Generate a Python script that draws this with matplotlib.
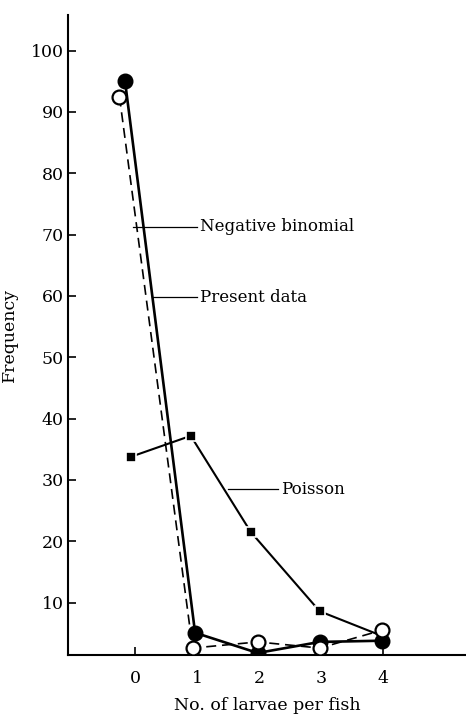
import matplotlib
matplotlib.use('Agg')
import matplotlib.pyplot as plt

plt.rcParams['font.family'] = 'DejaVu Serif'

# Values
x_present = [-0.16, 0.97, 1.98, 2.98, 3.98]
present_data = [95.0, 5.1, 1.8, 3.6, 3.8]

x_negbin = [-0.25, 0.93, 1.98, 2.98, 3.98]
neg_binomial = [92.5, 2.6, 3.6, 2.6, 5.5]

x_poisson = [-0.06, 0.90, 1.87, 2.98, 3.98]
poisson = [33.8, 37.2, 21.5, 8.6, 4.6]

x_ticks = [0, 1, 2, 3, 4]
y_ticks = [10, 20, 30, 40, 50, 60, 70, 80, 90, 100]

fig = plt.figure(figsize=(4.66, 7.15), dpi=100)
ax = fig.add_axes([68/466, 60/715, 1 - 68/466, 640/715])

# Poisson (squares)
ax.plot(x_poisson, poisson, color='black', lw=1.5, marker='s', ms=6.5,
        mfc='black', mec='white', mew=1.2, zorder=3)

# Present data (filled circles, solid)
ax.plot(x_present, present_data, color='black', lw=1.9, marker='o', ms=10.5,
        mfc='black', mec='black', zorder=4)

# Negative binomial (open circles, dashed)
ax.plot(x_negbin, neg_binomial, color='black', lw=1.2, ls=(0, (6, 3.5)),
        marker='o', ms=10, mfc='white', mec='black', mew=1.6, zorder=5)

# Curve labels with leader lines
labels = [('Negative binomial', -0.03, 1.0, 71.3),
          ('Present data', 0.27, 1.0, 59.8),
          ('Poisson', 1.50, 2.31, 28.5)]
for text, x0, x1, y0 in labels:
    ax.plot([x0, x1], [y0, y0], color='black', lw=0.9, zorder=2)
    ax.text(x1 + 0.05, y0, text, fontsize=12, va='center', ha='left')

ax.set_xlim(-1.08, 5.34)
ax.set_ylim(1.47, 105.8)

ax.set_xticks(x_ticks)
ax.set_yticks(y_ticks)
ax.tick_params(axis='both', direction='in', length=6, width=1.2, labelsize=12.5)
ax.tick_params(axis='x', pad=11)
ax.tick_params(axis='y', pad=3)

for side in ['top', 'right']:
    ax.spines[side].set_visible(False)
for side in ['left', 'bottom']:
    ax.spines[side].set_linewidth(1.5)

ax.set_xlabel('No. of larvae per fish', fontsize=12.5, labelpad=7)
ax.set_ylabel('Frequency', fontsize=12.5)
ax.yaxis.set_label_coords(-0.125, 0.5)

fig.savefig('out.png', dpi=100)
